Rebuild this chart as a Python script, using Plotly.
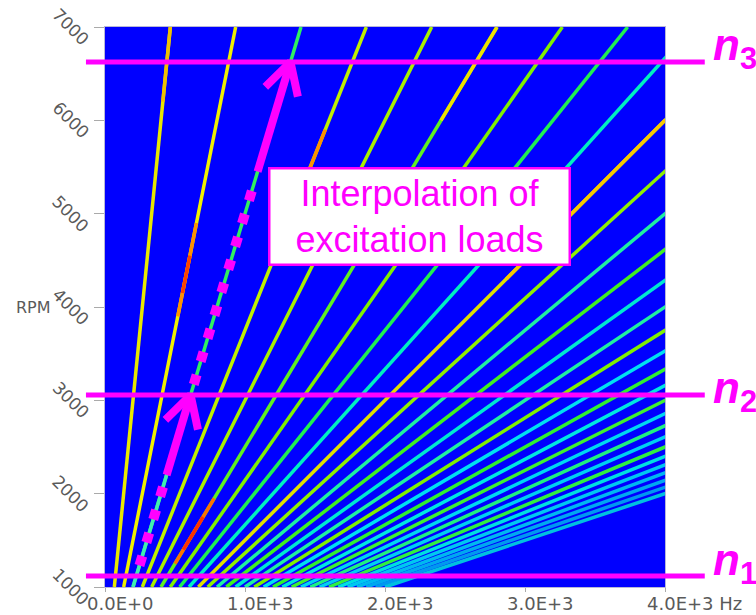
import math
import plotly.graph_objects as go

# ---------------- data ----------------
orders = [4, 8, 12, 16, 20, 24, 28, 32, 36, 40, 44, 48, 52, 56, 60,
          64, 68, 72, 76, 80, 84, 88, 92, 96, 100, 104, 108, 112, 116, 120]
order_colors = ["#e8e800", "#f0f000", "#30f060", "#c0f000", "#a8f000",
                "#60f020", "#80f000", "#20f050", "#00f0c0", "#e0e000",
                "#90f000", "#20f0a0", "#40f020", "#00e8d0", "#20f0a0",
                "#80f000", "#00e0f0", "#30f030", "#00e8e0", "#40f030",
                "#00d8f0", "#20f080", "#00d0f0", "#30f040", "#00e0e0",
                "#00c8f0", "#00b8f0", "#00a8f0", "#0098f0", "#00c0e0"]
rpm_span = [1000, 7000]

# coloured stretches of single order lines (order, rpm from, rpm to, colour)
hl_order = [4, 8, 8, 16, 24, 24, 24, 40, 12]
hl_rpm_lo = [6200, 3900, 4150, 5200, 1250, 1400, 6000, 4300, 1000]
hl_rpm_hi = [7000, 4900, 4550, 5900, 1950, 1750, 7000, 6000, 2600]
hl_color = ["#f0c000", "#ff9000", "#ff4000", "#ff9000", "#ff7000",
            "#ff3000", "#f0e000", "#f8c800", "#40f0b0"]

level_names = ["1", "2", "3"]
level_rpm = [1118, 3057, 6625]

arrow_order = 12
dotted_rpm_lo = [1230, 3170]
dotted_rpm_hi = [2150, 5300]
solid_rpm_from = [2200, 5450]

x_tick_vals = [0, 1000, 2000, 3000, 4000]
x_tick_text = ["0.0E+0", "1.0E+3", "2.0E+3", "3.0E+3", "4.0E+3 Hz"]
y_tick_vals = [1000, 2000, 3000, 4000, 5000, 6000, 7000]
y_tick_text = ["1000", "2000", "3000", "4000", "5000", "6000", "7000"]

box_text = "Interpolation of<br>excitation loads"


def order_freq(order, rpm):
    return order * rpm / 60.0


MAG = "#ff00ff"
GRAY = "#5a5a5a"
X_RANGE = [0, 4000]
Y_RANGE = [1000, 7000]
W, H = 756, 615
M = dict(l=105, r=91, t=27, b=28)
PX_X = (W - M["l"] - M["r"]) / (X_RANGE[1] - X_RANGE[0])   # px per Hz
PX_Y = (H - M["t"] - M["b"]) / (Y_RANGE[1] - Y_RANGE[0])   # px per rpm

fig = go.Figure()

# order lines
for k, c in zip(orders, order_colors):
    fig.add_trace(go.Scatter(
        x=[order_freq(k, r) for r in rpm_span], y=rpm_span,
        mode="lines", line=dict(color=c, width=3.5),
        hoverinfo="skip", showlegend=False))

# coloured stretches
for k, lo, hi, c in zip(hl_order, hl_rpm_lo, hl_rpm_hi, hl_color):
    fig.add_trace(go.Scatter(
        x=[order_freq(k, lo), order_freq(k, hi)], y=[lo, hi],
        mode="lines", line=dict(color=c, width=3.5),
        hoverinfo="skip", showlegend=False))

# dotted interpolation path
for lo, hi in zip(dotted_rpm_lo, dotted_rpm_hi):
    fig.add_trace(go.Scatter(
        x=[order_freq(arrow_order, lo), order_freq(arrow_order, hi)], y=[lo, hi],
        mode="lines", line=dict(color=MAG, width=10, dash="10px,14px"),
        hoverinfo="skip", showlegend=False))

# solid arrows (shaft + open chevron head) ending at n2 and n3
HEAD_BACK, HEAD_HALF = 31, 17   # px
for start, lvl in zip(solid_rpm_from, level_rpm[1:]):
    x0, y0 = order_freq(arrow_order, start), start
    x1, y1 = order_freq(arrow_order, lvl), lvl
    dxp, dyp = (x1 - x0) * PX_X, (y1 - y0) * PX_Y
    n = math.hypot(dxp, dyp)
    ux, uy = dxp / n, dyp / n
    px_, py_ = -uy, ux
    bx = [-HEAD_BACK * ux + s * HEAD_HALF * px_ for s in (1, -1)]
    by = [-HEAD_BACK * uy + s * HEAD_HALF * py_ for s in (1, -1)]
    fig.add_trace(go.Scatter(
        x=[x0, x1], y=[y0, y1], mode="lines",
        line=dict(color=MAG, width=8), hoverinfo="skip", showlegend=False))
    fig.add_trace(go.Scatter(
        x=[x1 + bx[0] / PX_X, x1, x1 + bx[1] / PX_X],
        y=[y1 + by[0] / PX_Y, y1, y1 + by[1] / PX_Y], mode="lines",
        line=dict(color=MAG, width=8), hoverinfo="skip", showlegend=False))

annotations = []

# horizontal speed levels
shapes = []
for r in level_rpm:
    shapes.append(dict(type="line", xref="paper", yref="y",
                       x0=-0.034, x1=1.071, y0=r, y1=r,
                       line=dict(color=MAG, width=5), layer="above"))

label_yshift = [13, 4, 14]
for name, r, ys in zip(level_names, level_rpm, label_yshift):
    annotations.append(dict(
        x=1.083, y=r, xref="paper", yref="y", xanchor="left", yanchor="middle",
        yshift=ys, showarrow=False,
        text="<b><i>n</i><sub>" + name + "</sub></b>",
        font=dict(family="Liberation Sans, Arial", size=44, color=MAG)))

# text box
annotations.append(dict(
    x=2243, y=4965, xref="x", yref="y", showarrow=False,
    text=box_text, align="center", width=296, height=92,
    bgcolor="white", bordercolor=MAG, borderwidth=2.5, borderpad=1,
    font=dict(family="Liberation Sans, Arial", size=36, color=MAG)))

# x tick labels (left aligned just before each tick)
for v, t in zip(x_tick_vals, x_tick_text):
    annotations.append(dict(
        x=v, y=0, xref="x", yref="paper", xanchor="left", yanchor="top",
        xshift=-20, yshift=-4, showarrow=False, text=t,
        font=dict(family="DejaVu Sans", size=18, color=GRAY)))

# y tick labels, rotated and centred on their tick
for v, t in zip(y_tick_vals, y_tick_text):
    annotations.append(dict(
        x=-0.061, y=v, xref="paper", yref="y", xanchor="center",
        yanchor="middle", textangle=45, showarrow=False, text=t,
        font=dict(family="DejaVu Sans", size=17, color=GRAY)))

# axis title
annotations.append(dict(
    x=-0.162, y=4000, xref="paper", yref="y", xanchor="left", yanchor="middle",
    showarrow=False, text="RPM",
    font=dict(family="DejaVu Sans", size=16, color=GRAY)))

fig.update_layout(
    width=W, height=H, margin=M,
    paper_bgcolor="white", plot_bgcolor="#0000ff",
    showlegend=False,
    shapes=shapes, annotations=annotations,
    xaxis=dict(range=X_RANGE, showgrid=False, zeroline=False,
               tickvals=x_tick_vals, showticklabels=False,
               ticks="outside", ticklen=4, tickcolor="#aaaaaa",
               showline=True, linecolor="#b8b8d8", linewidth=1, mirror=True),
    yaxis=dict(range=Y_RANGE, showgrid=False, zeroline=False,
               tickvals=y_tick_vals, showticklabels=False,
               ticks="outside", ticklen=10, tickcolor="#aaaaaa",
               showline=True, linecolor="#b8b8d8", linewidth=1, mirror=True),
)

fig.write_html("out.html")
